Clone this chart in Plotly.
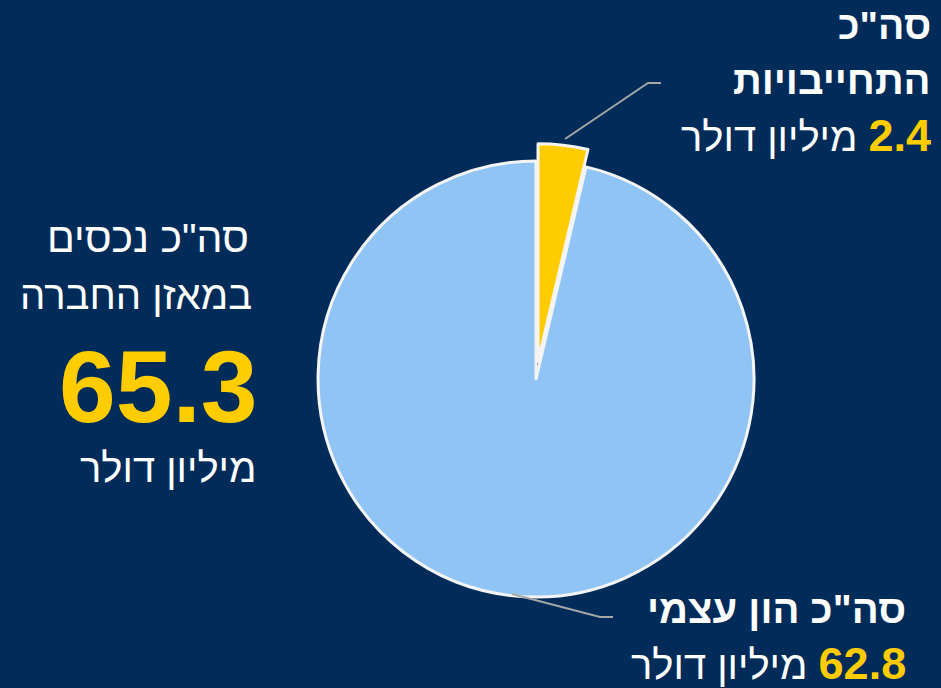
import plotly.graph_objects as go

# Balance-sheet split (USD millions)
labels = ['סה"כ התחייבויות', 'סה"כ הון עצמי']
values = [2.4, 62.8]
total_assets = 65.3
slice_colors = ["#FFCC00", "#90C4F4"]
slice_pull = [0.08, 0.0]

W, H = 941, 688
BG = "#012C5A"
YELLOW = "#FFCC00"
WHITE = "#FFFFFF"
FONT = "Liberation Sans"
LRM = "\u200e"
HEB = 40      # Hebrew text size
NUM = 45      # inline figures next to the labels


def px(x):
    return x / W


def py(y):
    return 1 - y / H


fig = go.Figure(
    go.Pie(
        labels=labels,
        values=values,
        sort=False,
        direction="clockwise",
        rotation=0,
        pull=slice_pull,
        marker=dict(colors=slice_colors, line=dict(color="#F4F4F4", width=3)),
        textinfo="none",
        hoverinfo="label+value",
        domain=dict(x=[px(300.6), px(771.4)], y=[py(614.4), py(143.6)]),
        showlegend=False,
    )
)


def note(text, x, y, size, color=WHITE, bold=False):
    if bold:
        text = f"<b>{text}</b>"
    fig.add_annotation(
        text=text, x=px(x), y=py(y), xref="paper", yref="paper",
        xanchor="right", yanchor="middle", showarrow=False,
        font=dict(family=FONT, size=size, color=color),
    )


def value_line(value):
    # Hebrew unit on the left, bold yellow number on the right
    return (f"מיליון דולר{LRM} "
            f"<span style='color:{YELLOW};font-size:{NUM}px'><b>{value}</b></span>")


# Total-assets block on the left
note('סה"כ נכסים', 251, 238, 41)
note("במאזן החברה", 254, 295, 40)
note(f"{total_assets}", 260, 387, 102, color=YELLOW, bold=True)
note("מיליון דולר", 258, 468, HEB)

# Liabilities label (top right)
note('סה"כ', 933, 26, 39, bold=True)
note("התחייבויות", 933, 80, HEB, bold=True)
note(value_line(values[0]), 933, 135, HEB)

# Equity label (bottom right)
note(labels[1], 908, 609, HEB, bold=True)
note(value_line(values[1]), 908, 663, HEB)

# Leader lines from the slices to their labels
LEADER = dict(color="#A6A6A6", width=2)
fig.add_shape(type="path", xref="paper", yref="paper",
              path=f"M {px(565)} {py(139)} L {px(648)} {py(83)} L {px(661)} {py(83)}",
              line=LEADER)
fig.add_shape(type="path", xref="paper", yref="paper",
              path=f"M {px(512)} {py(594)} L {px(600)} {py(617)} L {px(613)} {py(617)}",
              line=LEADER)

fig.update_layout(
    width=W, height=H,
    margin=dict(l=0, r=0, t=0, b=0),
    paper_bgcolor=BG, plot_bgcolor=BG,
    font=dict(family=FONT, color=WHITE),
)

fig.write_html("out.html", config={"displayModeBar": False})
